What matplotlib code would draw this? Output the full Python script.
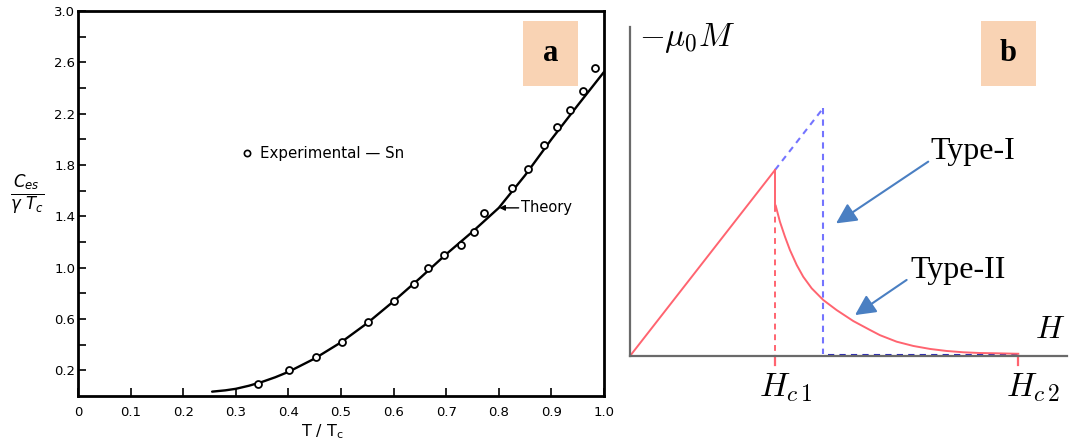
import matplotlib
matplotlib.use("Agg")
import matplotlib.pyplot as plt
from matplotlib.patches import Rectangle

# ---------------- Panel a data ----------------
exp_T = [0.343, 0.402, 0.453, 0.501, 0.552, 0.601, 0.639, 0.665, 0.696, 0.729,
         0.752, 0.771, 0.826, 0.855, 0.885, 0.910, 0.935, 0.961, 0.982]
exp_C = [0.094, 0.203, 0.307, 0.424, 0.573, 0.742, 0.872, 0.995, 1.099, 1.180,
         1.276, 1.427, 1.622, 1.766, 1.956, 2.096, 2.227, 2.378, 2.555]
theory_T = [0.255, 0.28, 0.30, 0.325, 0.35, 0.375, 0.40, 0.45, 0.50, 0.55, 0.60, 0.65,
            0.70, 0.75, 0.80, 0.85, 0.90, 0.95, 1.00]
theory_C = [0.034, 0.044, 0.056, 0.080, 0.110, 0.146, 0.188, 0.292, 0.418, 0.568,
            0.738, 0.918, 1.105, 1.280, 1.466, 1.720, 2.000, 2.265, 2.525]
xticks_a = [0, 0.1, 0.2, 0.3, 0.4, 0.5, 0.6, 0.7, 0.8, 0.9, 1.0]
xticklabels_a = ["0", "0.1", "0.2", "0.3", "0.4", "0.5", "0.6", "0.7", "0.8", "0.9", "1.0"]
yticks_a = [0.2, 0.6, 1.0, 1.4, 1.8, 2.2, 2.6, 3.0]
yticklabels_a = ["0.2", "0.6", "1.0", "1.4", "1.8", "2.2", "2.6", "3.0"]
yminor_a = [0.4, 0.8, 1.2, 1.6, 2.0, 2.4, 2.8]

# ---------------- Panel b data ----------------
Hc1 = 1.0
Hc = 1.333
Hc2 = 2.678
meissner_H = [0.0, Hc1]
meissner_M = [0.0, 1.0]
type1_ext_H = [Hc1, Hc]
type1_ext_M = [1.0, Hc]
type2_H = [1.005, 1.034, 1.069, 1.103, 1.150, 1.195, 1.253, 1.333, 1.425, 1.540,
           1.655, 1.724, 1.770, 1.839, 1.954, 2.069, 2.184, 2.299, 2.414, 2.529, 2.678]
type2_M = [0.808, 0.722, 0.641, 0.570, 0.489, 0.426, 0.364, 0.301, 0.247, 0.188,
           0.140, 0.112, 0.098, 0.077, 0.054, 0.038, 0.027, 0.020, 0.016, 0.0145, 0.012]

W, Hpx = 1072, 448
fig = plt.figure(figsize=(W / 100, Hpx / 100), dpi=100)

def fx(px):
    return px / W

def fy(py):
    return (Hpx - py) / Hpx

# ---------------- Panel a ----------------
axa = fig.add_axes([fx(78), fy(396), fx(604) - fx(78), fy(11) - fy(396)])
axa.plot(theory_T, theory_C, color="black", lw=1.7, solid_capstyle="round",
         solid_joinstyle="round")
axa.plot(exp_T, exp_C, "o", ms=5, mfc="white", mec="black", mew=1.3, ls="none")
axa.set_xlim(0, 1.0)
axa.set_ylim(0, 3.0)
for s in axa.spines.values():
    s.set_linewidth(2.0)
    s.set_color("black")
axa.set_xticks(xticks_a)
axa.set_xticklabels(xticklabels_a)
axa.set_yticks(yticks_a)
axa.set_yticklabels(yticklabels_a)
axa.set_yticks(yminor_a, minor=True)
axa.tick_params(axis="both", which="both", direction="in", length=6, width=1.2,
                labelsize=9.5, colors="black")
axa.tick_params(axis="x", pad=7)
axa.tick_params(axis="y", pad=2)
for lab in axa.get_xticklabels() + axa.get_yticklabels():
    lab.set_fontfamily("DejaVu Sans")

axa.plot([0.321], [1.89], "o", ms=4.5, mfc="white", mec="black", mew=1.2)
axa.text(0.346, 1.89, "Experimental — Sn", fontsize=10.8, va="center", ha="left",
         family="DejaVu Sans")
axa.annotate("Theory", xy=(0.801, 1.466), xytext=(0.843, 1.466),
             fontsize=10.5, va="center", ha="left", family="DejaVu Sans",
             arrowprops=dict(arrowstyle="-|>", color="black", lw=1.0,
                             mutation_scale=8, shrinkA=0, shrinkB=0))
fig.text(fx(322), fy(432), r"T / T$_\mathregular{c}$", fontsize=11.5, ha="center",
         va="center", family="DejaVu Sans")
fig.text(fx(27), fy(195), r"$\frac{C_{es}}{\gamma\ T_c}$", fontsize=17, ha="center",
         va="center", math_fontfamily="dejavusans")

# ---------------- Panel b ----------------
axb = fig.add_axes([fx(630), fy(356), fx(1067) - fx(630), fy(27) - fy(356)])
axb.set_xlim(0, 3.014)
axb.set_ylim(0, 1.769)
for side in ["top", "right"]:
    axb.spines[side].set_visible(False)
for side in ["left", "bottom"]:
    axb.spines[side].set_color("#6a6a6a")
    axb.spines[side].set_linewidth(1.6)
axb.set_xticks([])
axb.set_yticks([])
axb.patch.set_alpha(0)

red = "#ff6470"
blue = "#7474ff"
navy = "#2c2cb4"
arrow_c = "#4a7fc2"

axb.plot(type1_ext_H, type1_ext_M, ls=(0, (3, 2.5)), color=blue, lw=1.5)
axb.plot([Hc, Hc], [Hc, 0.01], ls=(0, (3, 2.5)), color=blue, lw=1.5)
axb.plot([Hc + 0.03, Hc2], [0.006, 0.006], ls=(0, (3, 2.5)), color=navy, lw=1.5)
axb.plot(meissner_H, meissner_M, color=red, lw=1.4)
axb.plot([Hc1, Hc1], [1.0, type2_M[0]], color=red, lw=1.4)
axb.plot([Hc1, Hc1], [type2_M[0], 0], ls=(0, (3, 2.5)), color=red, lw=1.4)
axb.plot(type2_H, type2_M, color=red, lw=1.4, solid_joinstyle="round")
axb.plot([Hc1, Hc1], [0, -0.05], color=red, lw=1.6, clip_on=False)
axb.plot([Hc2, Hc2], [0, -0.05], color=red, lw=1.6, clip_on=False)

axb.annotate("", xy=(1.421, 0.713), xytext=(2.057, 1.045),
             arrowprops=dict(arrowstyle="-|>", color=arrow_c, lw=1.5,
                             mutation_scale=31, shrinkA=0, shrinkB=0))
axb.annotate("", xy=(1.552, 0.220), xytext=(1.908, 0.409),
             arrowprops=dict(arrowstyle="-|>", color=arrow_c, lw=1.5,
                             mutation_scale=31, shrinkA=0, shrinkB=0))
axb.text(2.07, 1.10, "Type-I", fontsize=23, family="Liberation Serif",
         ha="left", va="center")
axb.text(1.935, 0.46, "Type-II", fontsize=23, family="Liberation Serif",
         ha="left", va="center")

axb.text(0.065, 1.71, r"$-\mu_0 M$", fontsize=24, ha="left", va="center",
         math_fontfamily="cm", clip_on=False)
axb.text(2.90, 0.14, r"$H$", fontsize=23, ha="center", va="center", math_fontfamily="cm")
axb.text(1.07, -0.17, r"$H_{c\,1}$", fontsize=24, ha="center", va="center",
         math_fontfamily="cm", clip_on=False)
axb.text(2.78, -0.17, r"$H_{c\,2}$", fontsize=24, ha="center", va="center",
         math_fontfamily="cm", clip_on=False)

# ---------------- Label boxes ----------------
box_c = "#f9d3b4"
for (x0, x1, lab) in [(522.7, 577.7, "a"), (981, 1036, "b")]:
    y0, y1 = 21, 86
    fig.patches.append(Rectangle((fx(x0), fy(y1)), fx(x1) - fx(x0), fy(y0) - fy(y1),
                                 transform=fig.transFigure, facecolor=box_c,
                                 edgecolor="none", zorder=5))
    fig.text(fx((x0 + x1) / 2), fy((y0 + y1) / 2), lab, fontsize=22, fontweight="bold",
             family="Liberation Serif", ha="center", va="center", zorder=6)

fig.savefig("out.png", dpi=100)
